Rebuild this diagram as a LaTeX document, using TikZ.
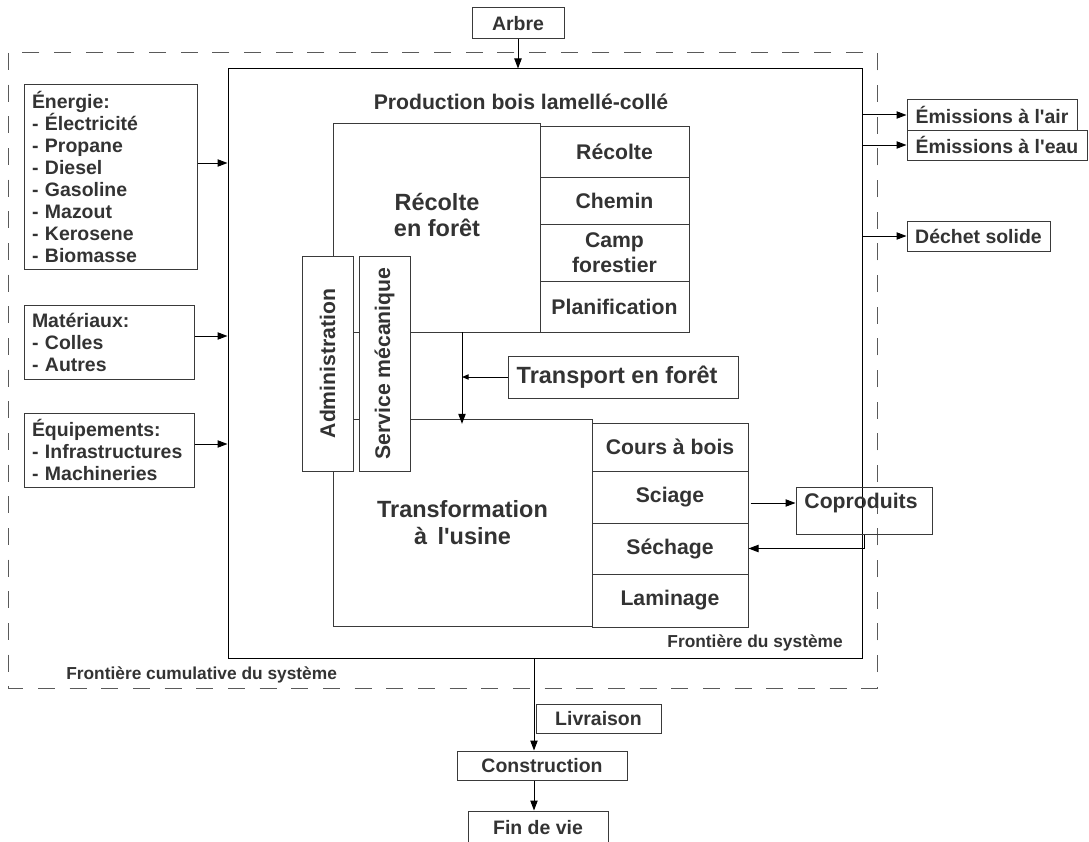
\documentclass[tikz,border=0pt]{standalone}
\usepackage{fontspec}
\setmainfont{Liberation Sans}
\usepackage{tikz}
\usetikzlibrary{arrows.meta,positioning}
\definecolor{texte}{HTML}{333333}
\definecolor{bord}{HTML}{3A3A3A}
\definecolor{tiret}{HTML}{5A5A5A}
\newdimen\pxu \pxu=0.75pt
\newcommand{\txtgrand}{\fontsize{17.6}{20}\selectfont\bfseries}
\newcommand{\txtmoyen}{\fontsize{15.9}{18.75}\selectfont\bfseries}
\newcommand{\txtnormal}{\fontsize{14.6}{16.5}\selectfont\bfseries}
\newcommand{\txtpetit}{\fontsize{13}{15}\selectfont\bfseries}
\tikzset{
  boite/.style={draw=bord, line width=0.75pt, inner sep=0pt, text=texte, align=center, font=\txtnormal},
  etape/.style={boite, font=\txtmoyen},
  liste/.style={boite, align=left, inner xsep=6pt, text width=#1},
  legende/.style={text=texte, inner sep=0pt},
  fleche/.style={line width=0.75pt, -{Triangle[length=7.5pt,width=5.5pt]}},
  petitefleche/.style={line width=0.75pt, -{Triangle[length=5pt,width=4pt]}},
  tirets/.style={draw=tiret, line width=0.75pt, dash pattern=on 12.75pt off 11pt}
}
\begin{document}
\begin{tikzpicture}[x=0.75pt,y=-0.75pt]
  \clip (0,0) rectangle (1089,842);
  \fill[white] (0,0) rectangle (1089,842);
  % frontiere cumulative
  \draw[tirets] (8,53) rectangle (877,688);
  \node[legende, font=\txtpetit, anchor=west] (cumul) at (66,675) {Frontière cumulative du système};
  % systeme
  \node[boite, draw=black, minimum width=634\pxu, minimum height=589\pxu] (systeme) at (545,363.5) {};
  \node[legende, font=\txtmoyen] (titre) at (521,102) {Production bois lamellé-collé};
  \node[legende, font=\txtpetit, anchor=east] (frontiere) at (843,643) {Frontière du système};
  \node[boite, minimum width=92\pxu, minimum height=31\pxu] (arbre) at (518,23.5) {Arbre};
  % recolte en foret
  \node[boite, minimum width=207\pxu, minimum height=209\pxu] (recolte) at (436.5,227.5) {};
  \node[legende, font=\txtgrand, align=center] (recolteTxt) at (437,215) {Récolte\\en forêt};
  \node[etape, minimum width=149\pxu, minimum height=51\pxu] (abattage) at (614.5,151.5) {Récolte};
  \node[etape, minimum width=149\pxu, minimum height=47\pxu] (chemin) at (614.5,200.5) {Chemin};
  \node[etape, minimum width=149\pxu, minimum height=57\pxu] (camp) at (614.5,252.5) {Camp\\forestier};
  \node[etape, minimum width=149\pxu, minimum height=51\pxu] (planif) at (614.5,306.5) {Planification};
  % transformation a l'usine
  \node[boite, font=\txtgrand, minimum width=259\pxu, minimum height=207\pxu] (transformation) at (462.5,522.5) {Transformation\\à\hspace{0.45em}l\textquotesingle usine};
  \node[etape, minimum width=156\pxu, minimum height=48\pxu] (cours) at (670,447) {Cours à bois};
  \node[etape, minimum width=156\pxu, minimum height=52\pxu] (sciage) at (670,497) {Sciage};
  \node[etape, minimum width=156\pxu, minimum height=51\pxu] (sechage) at (670,548.5) {Séchage};
  \node[etape, minimum width=156\pxu, minimum height=53\pxu] (laminage) at (670,600.5) {Laminage};
  % services
  \node[etape, fill=white, rotate=90, minimum width=215\pxu, minimum height=51\pxu] (admin) at (327.5,363.5) {Administration};
  \node[etape, fill=white, rotate=90, minimum width=215\pxu, minimum height=51\pxu] (service) at (384.5,363.5) {Service mécanique};
  % transport
  \node[boite, font=\txtgrand, minimum width=230\pxu, minimum height=42\pxu] (transport) at (623,377) {Transport en forêt\hspace{0.5em}};
  \coordinate (depart) at (462,332);
  \draw[fleche] (depart) -- ([yshift=-4pt]depart |- transformation.north);
  \draw[petitefleche] (transport.west) -- (transport.west -| depart);
  % coproduits
  \node[boite, minimum width=136\pxu, minimum height=47\pxu] (coproduits) at (864,510.5) {};
  \node[legende, font=\txtmoyen] (coproduitsTxt) at (861,503) {Coproduits};
  \draw[fleche] ([xshift=1.5pt,yshift=-4.5pt]sciage.east) -- ([yshift=-4.5pt]sciage.east -| coproduits.west);
  \draw[fleche] (coproduits.south) |- (sechage.east);
  % intrants
  \node[liste=117.75pt, minimum width=173\pxu, minimum height=184\pxu] (energie) at (110.5,177)
    {Énergie:\\- Électricité\\- Propane\\- Diesel\\- Gasoline\\- Mazout\\- Kerosene\\- Biomasse};
  \node[liste=115.5pt, minimum width=170\pxu, minimum height=74\pxu] (materiaux) at (109,342)
    {Matériaux:\\- Colles\\- Autres};
  \node[liste=115.5pt, minimum width=170\pxu, minimum height=74\pxu] (equipements) at (109,450)
    {Équipements:\\- Infrastructures\\- Machineries};
  \draw[fleche] ([yshift=10.5pt]energie.east) -- ([yshift=10.5pt]energie.east -| systeme.west);
  \draw[fleche] ([yshift=4.5pt]materiaux.east) -- ([yshift=4.5pt]materiaux.east -| systeme.west);
  \draw[fleche] ([yshift=4.5pt]equipements.east) -- ([yshift=4.5pt]equipements.east -| systeme.west);
  % extrants
  \node[boite, minimum width=170\pxu, minimum height=30\pxu] (air) at (992,115) {Émissions à l\textquotesingle air};
  \node[boite, minimum width=180\pxu, minimum height=30\pxu] (eau) at (997,145) {Émissions à l\textquotesingle eau};
  \node[boite, minimum width=143\pxu, minimum height=30\pxu] (dechet) at (978.5,236) {Déchet solide};
  \draw[fleche] (air.west -| systeme.east) -- (air.west);
  \draw[fleche] (eau.west -| systeme.east) -- (eau.west);
  \draw[fleche] (dechet.west -| systeme.east) -- (dechet.west);
  % arbre et aval
  \draw[fleche] (arbre.south) -- (arbre.south |- systeme.north);
  \node[boite, minimum width=125\pxu, minimum height=29\pxu] (livraison) at (598.5,718.5) {Livraison};
  \node[boite, minimum width=170\pxu, minimum height=29\pxu] (construction) at (542,765.5) {Construction};
  \node[boite, minimum width=140\pxu, minimum height=34\pxu] (finvie) at (538,828) {Fin de vie};
  \coordinate (sortie) at (534,658);
  \draw[fleche] (sortie) -- (sortie |- construction.north);
  \draw[fleche] (sortie |- construction.south) -- (sortie |- finvie.north);
\end{tikzpicture}
\end{document}
